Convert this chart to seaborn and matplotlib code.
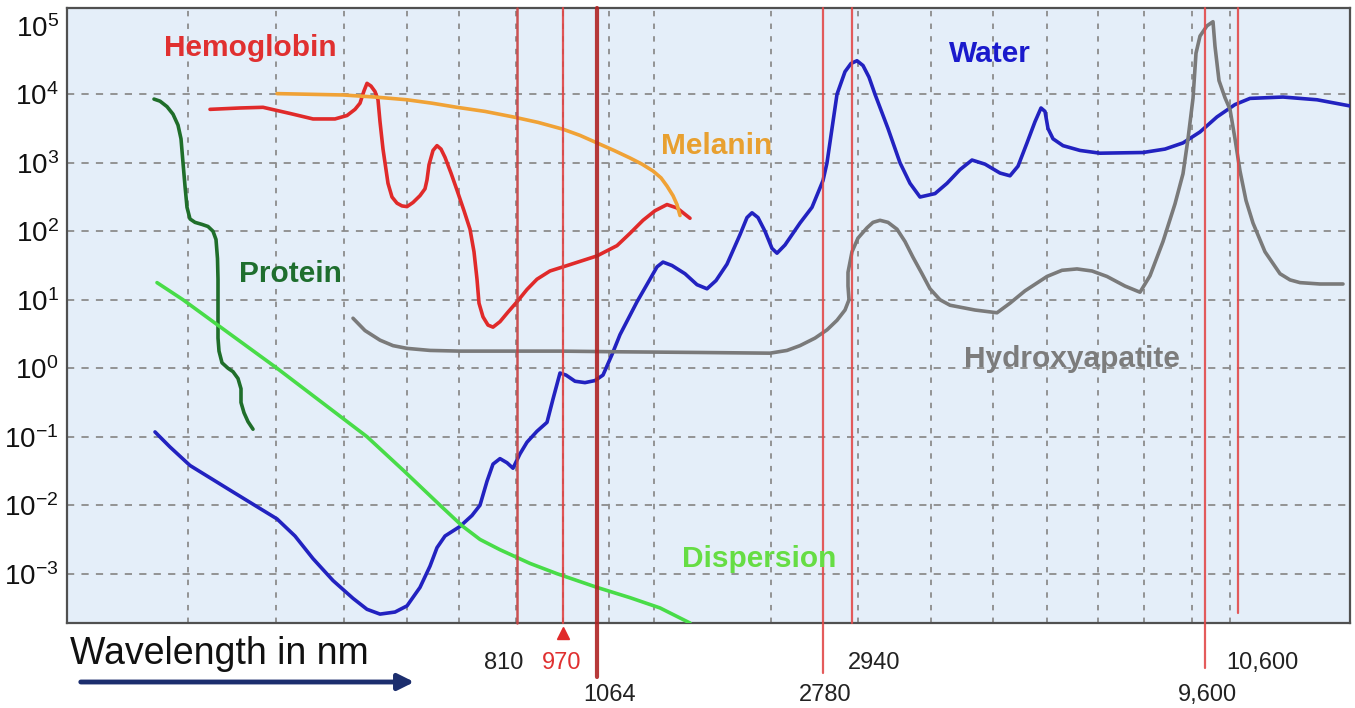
import numpy as np
import pandas as pd
import matplotlib
matplotlib.use('Agg')
import matplotlib.pyplot as plt
import seaborn as sns

# x = position along the (schematic, non-linear) wavelength axis
# y = log10 of the absorption coefficient

water_x = [155, 170, 190, 230, 277, 295, 313, 333, 353, 367, 380, 395, 407, 420, 430, 437, 445,
           460, 472, 480, 487, 493, 500, 507, 513, 520, 527, 537, 547, 553, 560, 566, 575, 585,
           595, 603, 612, 620, 637, 650, 657, 663, 672, 685, 697, 707, 716, 727, 740, 747, 752,
           758, 765, 772, 777, 785, 800, 812, 823, 827, 832, 837, 845, 851, 857, 863, 869, 875,
           888, 900, 910, 920, 935, 947, 960, 972, 985, 1000, 1010, 1018, 1027, 1035, 1041,
           1045, 1048, 1053, 1063, 1080, 1100, 1143, 1165, 1183, 1200, 1217, 1235, 1250, 1283,
           1317, 1350]
water_log = [-0.93, -1.15, -1.42, -1.78, -2.2, -2.45, -2.78, -3.1, -3.36, -3.52, -3.59, -3.56,
             -3.47, -3.2, -2.89, -2.62, -2.45, -2.31, -2.15, -2.0, -1.65, -1.4, -1.32, -1.38,
             -1.46, -1.25, -1.08, -0.92, -0.79, -0.45, -0.07, -0.1, -0.19, -0.21, -0.18, -0.1,
             0.2, 0.49, 0.97, 1.3, 1.48, 1.55, 1.5, 1.38, 1.22, 1.16, 1.28, 1.52, 1.95, 2.2,
             2.27, 2.2, 2.0, 1.75, 1.68, 1.8, 2.12, 2.35, 2.74, 3.0, 3.5, 4.0, 4.33, 4.45, 4.49,
             4.42, 4.25, 4.0, 3.5, 3.0, 2.7, 2.5, 2.55, 2.70, 2.9, 3.04, 2.98, 2.85, 2.81, 2.95,
             3.29, 3.6, 3.8, 3.75, 3.5, 3.35, 3.25, 3.18, 3.14, 3.15, 3.2, 3.29, 3.45, 3.67,
             3.85, 3.94, 3.96, 3.92, 3.83]

hemo_x = [210, 240, 263, 290, 313, 335, 347, 355, 360, 364, 367, 371, 375, 378, 380, 383, 388,
          392, 397, 402, 407, 413, 420, 425, 427, 429, 433, 437, 441, 445, 451, 457, 464, 470,
          474, 477, 479, 483, 488, 493, 500, 508, 517, 527, 537, 550, 563, 580, 597, 617, 630,
          643, 655, 667, 677, 690]
hemo_log = [3.78, 3.8, 3.81, 3.72, 3.64, 3.64, 3.69, 3.78, 3.87, 4.05, 4.16, 4.12, 4.04, 3.92,
            3.6, 3.2, 2.7, 2.5, 2.41, 2.37, 2.36, 2.42, 2.52, 2.62, 2.75, 2.97, 3.18, 3.25, 3.2,
            3.08, 2.85, 2.6, 2.3, 2.03, 1.7, 1.30, 0.95, 0.75, 0.63, 0.60, 0.68, 0.82, 0.97,
            1.15, 1.30, 1.42, 1.48, 1.56, 1.64, 1.79, 1.97, 2.16, 2.3, 2.39, 2.34, 2.19]

melanin_x = [277, 310, 343, 375, 407, 432, 457, 485, 513, 538, 563, 580, 597, 614, 630, 642,
             653, 661, 667, 673, 677, 680]
melanin_log = [4.01, 4.0, 3.99, 3.96, 3.92, 3.87, 3.81, 3.75, 3.67, 3.59, 3.49, 3.4, 3.29, 3.18,
               3.07, 2.98, 2.88, 2.78, 2.66, 2.52, 2.39, 2.23]

protein_x = [154, 160, 167, 173, 178, 181, 183, 185, 187, 190, 195, 202, 208, 213, 216, 217.5,
             218, 218, 218, 219, 222, 228, 233, 238, 241, 241, 244, 248, 253]
protein_log = [3.93, 3.9, 3.82, 3.71, 3.55, 3.35, 3.0, 2.66, 2.35, 2.18, 2.13, 2.1, 2.07, 2.0,
               1.88, 1.6, 1.3, 0.9, 0.44, 0.25, 0.08, 0.0, -0.05, -0.15, -0.3, -0.5, -0.65,
               -0.78, -0.89]

disp_x = [157, 183, 230, 277, 322, 367, 404, 440, 462, 480, 500, 530, 557, 597, 630, 660, 690]
disp_log = [1.25, 1.0, 0.5, 0.0, -0.5, -1.0, -1.5, -2.0, -2.3, -2.5, -2.65, -2.85, -3.0, -3.2,
            -3.35, -3.5, -3.72]

hyd_x = [353, 365, 380, 393, 407, 430, 460, 560, 620, 700, 770, 787, 800, 815, 827, 837, 845,
         849, 848, 848, 852, 858, 867, 873, 880, 888, 897, 905, 913, 922, 930, 940, 950, 975,
         997, 1010, 1025, 1047, 1062, 1077, 1092, 1107, 1125, 1140, 1150, 1163, 1175, 1183,
         1188, 1193, 1196, 1200, 1207, 1213, 1215, 1219, 1225, 1230, 1235, 1240, 1246, 1253,
         1265, 1280, 1290, 1300, 1320, 1343]
hyd_log = [0.73, 0.55, 0.41, 0.33, 0.29, 0.26, 0.25, 0.25, 0.24, 0.23, 0.22, 0.26, 0.33, 0.44,
           0.56, 0.7, 0.85, 1.0, 1.2, 1.4, 1.7, 1.9, 2.05, 2.13, 2.16, 2.13, 2.03, 1.85, 1.62,
           1.38, 1.16, 1.0, 0.92, 0.85, 0.81, 0.95, 1.13, 1.34, 1.43, 1.45, 1.42, 1.34, 1.2,
           1.11, 1.35, 1.85, 2.4, 2.84, 3.35, 3.94, 4.6, 4.85, 5.0, 5.06, 4.7, 4.2, 3.95, 3.78,
           3.35, 2.88, 2.45, 2.12, 1.7, 1.38, 1.29, 1.25, 1.23, 1.23]

# laser wavelengths and where they sit on the schematic axis
laser_nm = ['810', '970', '1064', '2780', '2940', '9,600', '10,600']
laser_pos = [517, 563, 597, 823, 852, 1205, 1238]

grid_x = [188, 276, 344, 407, 459, 516, 563, 609, 654, 771, 858, 931, 993, 1047, 1098, 1144, 1192, 1230]
decades = list(range(-3, 6))

curves = {
    'Water': (water_x, water_log, '#2222c0'),
    'Hemoglobin': (hemo_x, hemo_log, '#e02a2a'),
    'Melanin': (melanin_x, melanin_log, '#f0a236'),
    'Protein': (protein_x, protein_log, '#1f6e2a'),
    'Dispersion': (disp_x, disp_log, '#48dc48'),
    'Hydroxyapatite': (hyd_x, hyd_log, '#7a7a7a'),
}

sns.set_theme(style='white')
plt.rcParams['font.family'] = ['Liberation Sans', 'DejaVu Sans']
plt.rcParams['mathtext.fontset'] = 'custom'
plt.rcParams['mathtext.rm'] = 'Liberation Sans'
plt.rcParams['mathtext.it'] = 'Liberation Sans:italic'
plt.rcParams['mathtext.default'] = 'regular'

fig = plt.figure(figsize=(13.55, 7.08), dpi=100)
ax = fig.add_axes([67 / 1355, 85 / 708, 1283 / 1355, 615 / 708])
ax.set_facecolor('#e4eef9')

for name, (xs, ls, col) in curves.items():
    df = pd.DataFrame({'pos': xs, 'absorption': 10.0 ** np.array(ls)})
    sns.lineplot(data=df, x='pos', y='absorption', sort=False, estimator=None,
                 color=col, lw=2.6, ax=ax, zorder=3)

ax.set_yscale('log')
ax.set_xlim(67, 1350)
ax.set_ylim(10 ** -3.72, 10 ** 5.26)

# grid
for k in decades[:-1]:
    ax.axhline(10.0 ** k, color='#8c8c8c', lw=1.3, ls=(0, (4, 4)), zorder=1)
for gx in grid_x:
    ax.axvline(gx, color='#8c8c8c', lw=1.3, ls=(0, (3, 4)), zorder=1)

ax.set_xticks([])
ax.set_yticks([10.0 ** k for k in decades])
ax.set_yticklabels([f'$10^{{{k}}}$' for k in decades], fontsize=20)
ax.yaxis.set_minor_locator(matplotlib.ticker.NullLocator())
ax.tick_params(axis='y', length=0, pad=6, colors='#111111')
ax.set_xlabel('')
ax.set_ylabel('')
for sp in ax.spines.values():
    sp.set_color('#505050')
    sp.set_linewidth(1.6)

# laser lines
trans = ax.get_xaxis_transform()
line_low = [0.0, 0.0, -0.088, -0.081, 0.0, -0.073, 0.016]
line_col = ['#c84040', '#e04444', '#b02424', '#e24a4a', '#e24a4a', '#e24a4a', '#e24a4a']
line_w = [1.8, 1.6, 3.0, 1.6, 1.6, 1.6, 1.6]
for pos, low, col, w in zip(laser_pos, line_low, line_col, line_w):
    ax.plot([pos, pos], [low, 1], color=col, lw=w, transform=trans, clip_on=False,
            zorder=4, alpha=0.9)
ax.plot(laser_pos[1], -0.017, marker='^', ms=9, color='#e02a2a', transform=trans,
        clip_on=False, zorder=5)

label_x = [504, 562, 610, 825, 874, 1207, 1262]
label_y = [-0.065, -0.065, -0.117, -0.117, -0.065, -0.117, -0.065]
label_c = ['#222222', '#e03030', '#222222', '#222222', '#222222', '#222222', '#222222']
for txt, lx, ly, lc in zip(laser_nm, label_x, label_y, label_c):
    ax.text(lx, ly, txt, transform=trans, ha='center', va='center', fontsize=17, color=lc)

# curve names
names = [
    ('Hemoglobin', 250, 4.67, '#e03030'),
    ('Melanin', 717, 3.25, '#e8a030'),
    ('Protein', 290, 1.37, '#1e6e2e'),
    ('Water', 990, 4.59, '#1a1acc'),
    ('Hydroxyapatite', 1072, 0.13, '#7c7c7c'),
    ('Dispersion', 759, -2.78, '#66dd44'),
]
for txt, x, ly, col in names:
    ax.text(x, 10 ** ly, txt, ha='center', va='center', fontsize=21.5,
            fontweight='bold', color=col, zorder=6)

# axis caption with arrow
fig.text(70 / 1355, 1 - 654 / 708, 'Wavelength in nm', ha='left', va='center',
         fontsize=27, color='#111111')
ax.annotate('', xy=(417, 26), xytext=(78, 26), xycoords='figure pixels',
            textcoords='figure pixels',
            arrowprops=dict(arrowstyle='-|>', color='#1c2e6e', lw=3.5, mutation_scale=24))

fig.savefig('out.png', dpi=100, facecolor='white')
